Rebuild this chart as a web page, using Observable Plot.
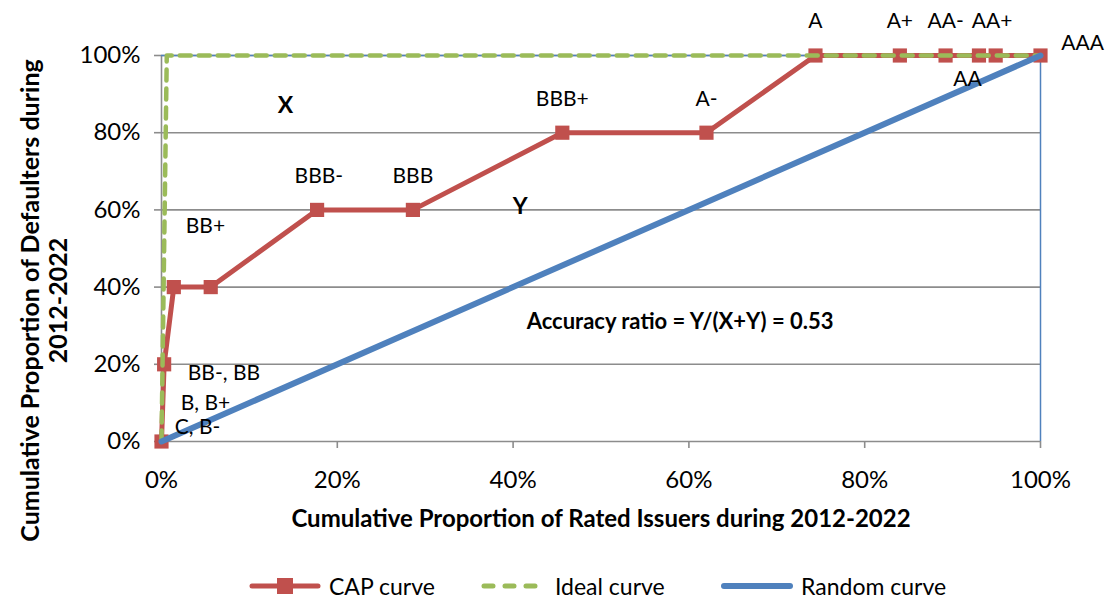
<!DOCTYPE html>
<html>
<head>
<meta charset="utf-8">
<script src="https://cdn.jsdelivr.net/npm/d3@7"></script>
<script src="https://cdn.jsdelivr.net/npm/@observablehq/plot@0.6"></script>
<style>
  body { margin: 0; background: #fff; font-family: Lato, "Open Sans", sans-serif; }
  #chart svg { display: block; overflow: visible; }
  .legend { position: relative; height: 54px; width: 1112px; font-size: 23px; color: #000; }
  .legend .item { position: absolute; top: 26px; display: flex; align-items: center; height: 30px; }
  .legend svg { display: block; margin-right: 7px; }
</style>
</head>
<body>
<div id="chart"></div>
<div class="legend" id="legend"></div>
<script>
// ---- Data ----
const capX = [0, 0.003, 0.014, 0.056, 0.177, 0.286, 0.456, 0.620, 0.744, 0.840, 0.892, 0.930, 0.949, 1.0];
const capY = [0, 0.2, 0.4, 0.4, 0.6, 0.6, 0.8, 0.8, 1, 1, 1, 1, 1, 1];
const idealX = [0, 0.006, 1];
const idealY = [0, 1, 1];
const randomX = [0, 1];
const randomY = [0, 1];
const ratingLabels = ["C, B-", "B, B+", "BB-, BB", "BB+", "BBB-", "BBB", "BBB+", "A-", "A", "A+", "AA-", "AA", "AA+", "AAA"];
const labelX = [0.041, 0.050, 0.071, 0.050, 0.179, 0.286, 0.456, 0.620, 0.744, 0.840, 0.892, 0.917, 0.945, 1.048];
const labelY = [0.036, 0.098, 0.176, 0.557, 0.687, 0.687, 0.886, 0.886, 1.088, 1.088, 1.088, 0.938, 1.088, 1.031];
const annotText = ["X", "Y", "Accuracy ratio = Y/(X+Y) = 0.53"];
const annotX = [0.141, 0.408, 0.59];
const annotY = [0.87, 0.609, 0.31];
const ticks = [0, 0.2, 0.4, 0.6, 0.8, 1.0];
const xTitle = "Cumulative Proportion of Rated Issuers during 2012-2022";
const yTitle = "Cumulative Proportion of Defaulters during\n2012-2022";
const seriesNames = ["CAP curve", "Ideal curve", "Random curve"];

const RED = "#C0504D", GREEN = "#9BBB59", BLUE = "#4F81BD", GRID = "#8C8C8C";

const cap = capX.map((x, i) => ({x, y: capY[i]}));
const ideal = idealX.map((x, i) => ({x, y: idealY[i]}));
const rnd = randomX.map((x, i) => ({x, y: randomY[i]}));
const labels = ratingLabels.map((t, i) => ({t, x: labelX[i], y: labelY[i]}));
const annots = annotText.map((t, i) => ({t, x: annotX[i], y: annotY[i]}));
const fmt = d3.format(".0%");

const chart = Plot.plot({
  width: 1112,
  height: 545,
  marginLeft: 161,
  marginRight: 72,
  marginTop: 55,
  marginBottom: 104,
  style: { fontFamily: "Lato, 'Open Sans', sans-serif", fontSize: "24px", color: "#000", overflow: "visible" },
  x: { domain: [0, 1], label: null },
  y: { domain: [0, 1], label: null },
  marks: [
    Plot.ruleY(ticks.slice(1), { stroke: GRID, strokeWidth: 1.6 }),
    Plot.ruleY([0], { stroke: GRID, strokeWidth: 1.6 }),
    Plot.ruleX([0], { stroke: GRID, strokeWidth: 1.6 }),
    Plot.axisX({ ticks: ticks, tickFormat: fmt, tickSize: 7, tickPadding: 22, stroke: GRID, strokeWidth: 1.6, fontSize: 24, fill: "#000", label: null }),
    Plot.axisY({ ticks: ticks, tickFormat: fmt, tickSize: 7, tickPadding: 14, stroke: GRID, strokeWidth: 1.6, fontSize: 24, fill: "#000", label: null }),
    Plot.ruleY([1], { stroke: BLUE, strokeWidth: 1.5 }),
    Plot.ruleX([1], { stroke: BLUE, strokeWidth: 1.5 }),
    Plot.line(cap, { x: "x", y: "y", stroke: RED, strokeWidth: 5 }),
    Plot.dot(cap, { x: "x", y: "y", symbol: "square", r: 8, fill: RED, stroke: "none" }),
    Plot.line(ideal, { x: "x", y: "y", stroke: GREEN, strokeWidth: 4.5, strokeDasharray: "11 8", strokeLinecap: "round" }),
    Plot.line(rnd, { x: "x", y: "y", stroke: BLUE, strokeWidth: 6 }),
    Plot.text(labels, { x: "x", y: "y", text: "t", fontSize: 21, fill: "#000" }),
    Plot.text(annots, { x: "x", y: "y", text: "t", fontSize: d => d.t.length > 1 ? 22 : 23, fontWeight: "bold", fill: "#000" }),
    Plot.text([xTitle], { frameAnchor: "bottom", lineAnchor: "middle", dy: 78, text: d => d, fontSize: 24, fontWeight: "bold", fill: "#000" }),
    Plot.text([yTitle], { frameAnchor: "left", textAnchor: "middle", lineAnchor: "middle", dx: -117, dy: 52, rotate: -90, text: d => d, fontSize: 25, fontWeight: "bold", lineHeight: 1.12, fill: "#000" })
  ]
});
document.getElementById("chart").appendChild(chart);

// ---- Legend ----
const legend = d3.select("#legend");
const items = [
  { name: seriesNames[0], left: 248, color: RED, kind: "marker" },
  { name: seriesNames[1], left: 480, color: GREEN, kind: "dash" },
  { name: seriesNames[2], left: 720, color: BLUE, kind: "solid" }
];
for (const it of items) {
  const div = legend.append("div").attr("class", "item").style("left", it.left + "px");
  const w = it.kind === "dash" ? 68 : 74;
  const s = div.append("svg").attr("width", w).attr("height", 30);
  s.append("line").attr("x1", 4).attr("x2", w - 4).attr("y1", 15).attr("y2", 15)
    .attr("stroke", it.color).attr("stroke-width", it.kind === "solid" ? 6 : 5)
    .attr("stroke-linecap", "round")
    .attr("stroke-dasharray", it.kind === "dash" ? "9 12" : null);
  if (it.kind === "marker") s.append("rect").attr("x", w / 2 - 8).attr("y", 7).attr("width", 16).attr("height", 16).attr("fill", it.color);
  div.append("span").text(it.name);
}
</script>
</body>
</html>
